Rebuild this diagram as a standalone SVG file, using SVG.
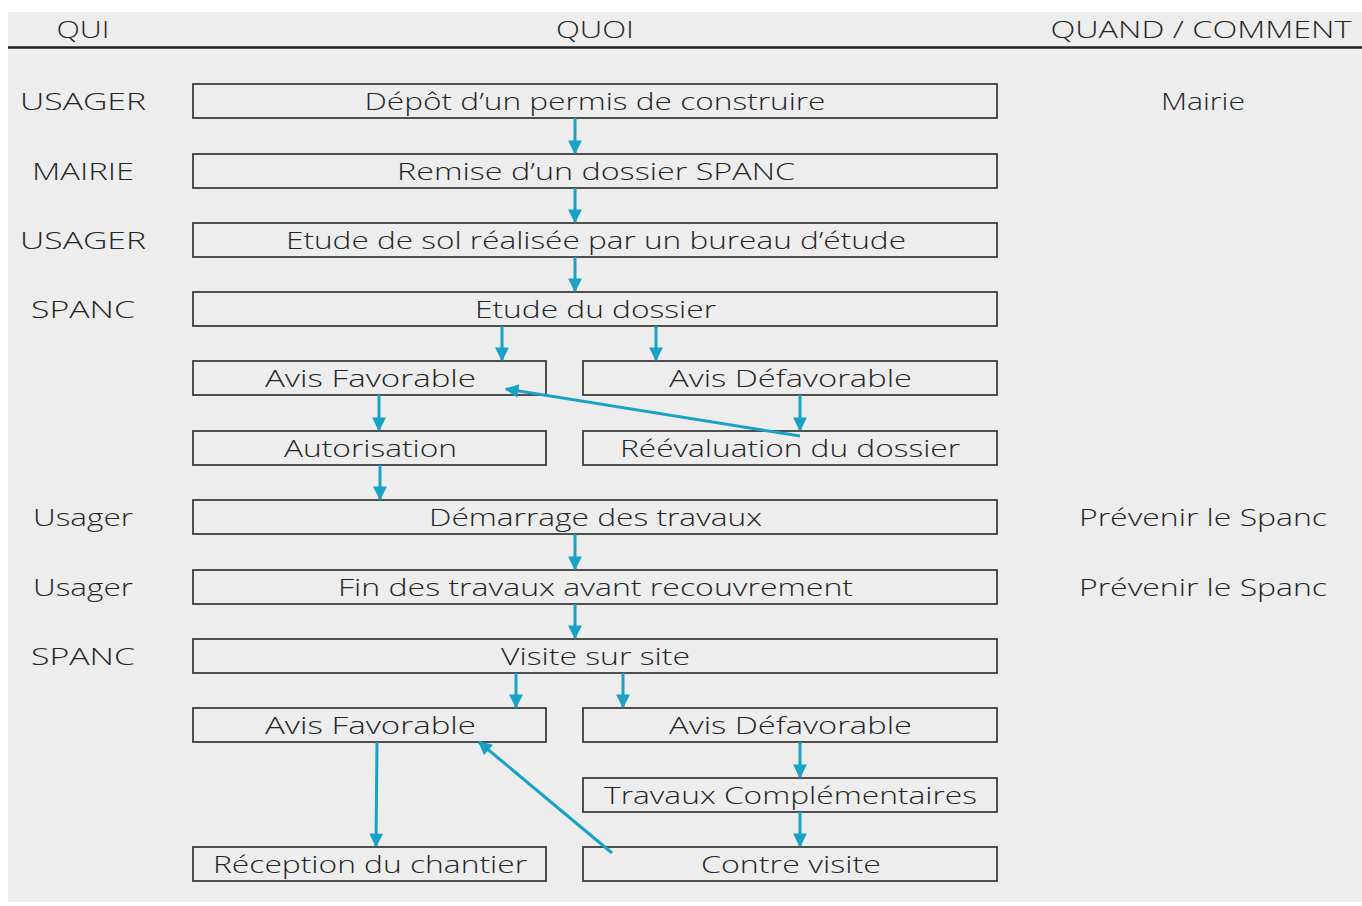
<svg xmlns="http://www.w3.org/2000/svg" width="1362" height="906" viewBox="0 0 1362 906">
<style>
text{font-family:"Open Sans","Liberation Sans",sans-serif;font-weight:300;font-size:24px;fill:#262626;text-anchor:middle}
.box{fill:none;stroke:#333;stroke-width:1.7}
.c{stroke:#18a2c6;stroke-width:3;fill:none;marker-end:url(#ah)}
</style>
<defs>
<marker id="ah" viewBox="0 0 10 10" refX="9" refY="5" markerWidth="4.8" markerHeight="4.6" orient="auto" markerUnits="strokeWidth">
<path d="M0,0 L10,5 L0,10 z" fill="#18a2c6"/>
</marker>
</defs>
<rect x="0" y="0" width="1362" height="906" fill="#ffffff"/>
<rect x="8" y="12" width="1354" height="890" fill="#ededed"/>
<line x1="8" y1="47.5" x2="1362" y2="47.5" stroke="#222" stroke-width="2.5"/>
<g id="headers">
<text x="83" y="38" textLength="53" lengthAdjust="spacingAndGlyphs">QUI</text>
<text x="595" y="38" textLength="78" lengthAdjust="spacingAndGlyphs">QUOI</text>
<text x="1201" y="38" textLength="301" lengthAdjust="spacingAndGlyphs">QUAND / COMMENT</text>
</g>
<g id="qui">
<text x="83" y="110" textLength="126" lengthAdjust="spacingAndGlyphs">USAGER</text>
<text x="83" y="180" textLength="102" lengthAdjust="spacingAndGlyphs">MAIRIE</text>
<text x="83" y="249" textLength="126" lengthAdjust="spacingAndGlyphs">USAGER</text>
<text x="83" y="318" textLength="104" lengthAdjust="spacingAndGlyphs">SPANC</text>
<text x="83" y="526" textLength="100" lengthAdjust="spacingAndGlyphs">Usager</text>
<text x="83" y="596" textLength="100" lengthAdjust="spacingAndGlyphs">Usager</text>
<text x="83" y="665" textLength="104" lengthAdjust="spacingAndGlyphs">SPANC</text>
</g>
<g id="quand">
<text x="1203" y="110" textLength="84" lengthAdjust="spacingAndGlyphs">Mairie</text>
<text x="1203" y="526" textLength="248" lengthAdjust="spacingAndGlyphs">Prévenir le Spanc</text>
<text x="1203" y="596" textLength="248" lengthAdjust="spacingAndGlyphs">Prévenir le Spanc</text>
</g>
<g id="n1"><rect class="box" x="193" y="84" width="804" height="34"/><text x="595" y="110" textLength="461" lengthAdjust="spacingAndGlyphs">Dépôt d’un permis de construire</text></g>
<g id="n2"><rect class="box" x="193" y="154" width="804" height="34"/><text x="596" y="180" textLength="398" lengthAdjust="spacingAndGlyphs">Remise d’un dossier SPANC</text></g>
<g id="n3"><rect class="box" x="193" y="223" width="804" height="34"/><text x="596" y="249" textLength="620" lengthAdjust="spacingAndGlyphs">Etude de sol réalisée par un bureau d’étude</text></g>
<g id="n4"><rect class="box" x="193" y="292" width="804" height="34"/><text x="595.5" y="318" textLength="241" lengthAdjust="spacingAndGlyphs">Etude du dossier</text></g>
<g id="n5"><rect class="box" x="193" y="361" width="353" height="34"/><text x="370.5" y="387" textLength="211" lengthAdjust="spacingAndGlyphs">Avis Favorable</text></g>
<g id="n6"><rect class="box" x="583" y="361" width="414" height="34"/><text x="790.5" y="387" textLength="243" lengthAdjust="spacingAndGlyphs">Avis Défavorable</text></g>
<g id="n7"><rect class="box" x="193" y="431" width="353" height="34"/><text x="370.5" y="457" textLength="173" lengthAdjust="spacingAndGlyphs">Autorisation</text></g>
<g id="n8"><rect class="box" x="583" y="431" width="414" height="34"/><text x="790" y="457" textLength="340" lengthAdjust="spacingAndGlyphs">Réévaluation du dossier</text></g>
<g id="n9"><rect class="box" x="193" y="500" width="804" height="34"/><text x="595.5" y="526" textLength="333" lengthAdjust="spacingAndGlyphs">Démarrage des travaux</text></g>
<g id="n10"><rect class="box" x="193" y="570" width="804" height="34"/><text x="595.5" y="596" textLength="515" lengthAdjust="spacingAndGlyphs">Fin des travaux avant recouvrement</text></g>
<g id="n11"><rect class="box" x="193" y="639" width="804" height="34"/><text x="595.5" y="665" textLength="189" lengthAdjust="spacingAndGlyphs">Visite sur site</text></g>
<g id="n12"><rect class="box" x="193" y="708" width="353" height="34"/><text x="370.5" y="734" textLength="211" lengthAdjust="spacingAndGlyphs">Avis Favorable</text></g>
<g id="n13"><rect class="box" x="583" y="708" width="414" height="34"/><text x="790.5" y="734" textLength="243" lengthAdjust="spacingAndGlyphs">Avis Défavorable</text></g>
<g id="n14"><rect class="box" x="583" y="778" width="414" height="34"/><text x="790.5" y="804" textLength="373" lengthAdjust="spacingAndGlyphs">Travaux Complémentaires</text></g>
<g id="n15"><rect class="box" x="193" y="847" width="353" height="34"/><text x="370" y="873" textLength="314" lengthAdjust="spacingAndGlyphs">Réception du chantier</text></g>
<g id="n16"><rect class="box" x="583" y="847" width="414" height="34"/><text x="791" y="873" textLength="180" lengthAdjust="spacingAndGlyphs">Contre visite</text></g>
<g id="connectors">
<line class="c" x1="575" y1="118" x2="575" y2="153"/>
<line class="c" x1="575" y1="188" x2="575" y2="222"/>
<line class="c" x1="575" y1="257" x2="575" y2="291"/>
<line class="c" x1="502" y1="326" x2="502" y2="360"/>
<line class="c" x1="656" y1="326" x2="656" y2="360"/>
<line class="c" x1="379" y1="395" x2="379" y2="430"/>
<line class="c" x1="800" y1="395" x2="800" y2="430"/>
<line class="c" x1="800" y1="436" x2="506" y2="389"/>
<line class="c" x1="380" y1="465" x2="380" y2="499"/>
<line class="c" x1="575" y1="534" x2="575" y2="569"/>
<line class="c" x1="575" y1="604" x2="575" y2="638"/>
<line class="c" x1="516" y1="673" x2="516" y2="707"/>
<line class="c" x1="623" y1="673" x2="623" y2="707"/>
<line class="c" x1="377" y1="742" x2="376" y2="846"/>
<line class="c" x1="800" y1="742" x2="800" y2="777"/>
<line class="c" x1="800" y1="812" x2="800" y2="846"/>
<line class="c" x1="612" y1="853" x2="479" y2="742"/>
</g>
</svg>
